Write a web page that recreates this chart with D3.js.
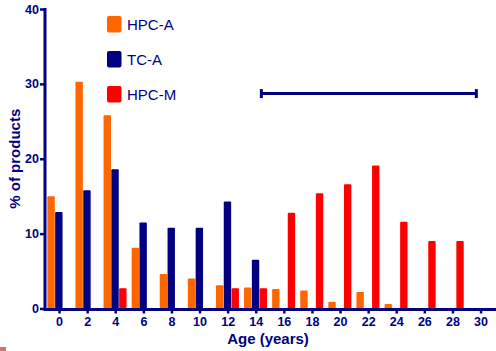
<!DOCTYPE html>
<html>
<head>
<meta charset="utf-8">
<script src="https://cdn.jsdelivr.net/npm/d3@7"></script>
<style>
  body { margin: 0; background: #fff; }
  text { font-family: "Liberation Sans", Arial, sans-serif; fill: #000080; }
</style>
</head>
<body>
<svg id="chart" width="496" height="351"></svg>
<script>
// Data
var ages = [0, 2, 4, 6, 8, 10, 12, 14, 16, 18, 20, 22, 24, 26, 28, 30];
var seriesNames = ["HPC-A", "TC-A", "HPC-M"];
var seriesColors = ["#ff6600", "#000080", "#ff0000"];
var hpcA = [15.0, 30.3, 25.8, 8.1, 4.6, 4.0, 3.1, 2.8, 2.6, 2.4, 0.9, 2.2, 0.6, 0, 0, 0];
var tcA  = [12.9, 15.8, 18.6, 11.5, 10.8, 10.8, 14.3, 6.5, 0, 0, 0, 0, 0, 0, 0, 0];
var hpcM = [0, 0, 2.7, 0, 0, 0, 2.7, 2.7, 12.8, 15.4, 16.6, 19.1, 11.6, 9.0, 9.0, 0];
var yTicks = [0, 10, 20, 30, 40];
var rangeBar = { from: 14.4, to: 29.7, level: 28.7 };

var svg = d3.select("#chart");

var x = d3.scaleLinear().domain([-1, 31.1]).range([45, 496]);
var y = d3.scaleLinear().domain([0, 40]).range([308.5, 9]);

// bar offsets within each age group
var sub = d3.scaleBand().domain(seriesNames).range([-11.7, 11.7]);

var allSeries = [hpcA, tcA, hpcM];

// Bars
for (var s = 0; s < allSeries.length; s++) {
  svg.append("g").selectAll("rect").data(allSeries[s]).enter().append("rect")
    .attr("x", function(d, i) { return x(ages[i]) + sub(seriesNames[s]); })
    .attr("y", function(d) { return y(d); })
    .attr("width", sub.bandwidth() - 0.4)
    .attr("height", function(d) { return y(0) - y(d); })
    .attr("rx", 1)
    .attr("fill", seriesColors[s]);
}

// Range line
var rg = svg.append("g").attr("stroke", "#000080");
rg.append("line")
  .attr("x1", x(rangeBar.from)).attr("x2", x(rangeBar.to))
  .attr("y1", y(rangeBar.level)).attr("y2", y(rangeBar.level))
  .attr("stroke-width", 3);
rg.selectAll("line.cap").data([rangeBar.from, rangeBar.to]).enter().append("line")
  .attr("class", "cap")
  .attr("x1", function(d) { return x(d); }).attr("x2", function(d) { return x(d); })
  .attr("y1", y(rangeBar.level) - 4.5).attr("y2", y(rangeBar.level) + 4.5)
  .attr("stroke-width", 3);

// Y axis
var yAxis = d3.axisLeft(y).tickValues(yTicks).tickSize(5).tickPadding(1);
var yg = svg.append("g").attr("transform", "translate(45,0)").call(yAxis);
yg.select(".domain").attr("stroke", "#000080").attr("stroke-width", 3)
  .attr("d", "M0," + (y(40) - 1) + "V" + (y(0) + 1.5));
yg.selectAll(".tick line").attr("stroke", "#000080").attr("stroke-width", 2.5);
yg.selectAll(".tick text").attr("fill", "#000080")
  .style("font-size", "12.5px").style("font-weight", "bold");

// X axis
var xAxis = d3.axisBottom(x).tickValues(ages).tickSize(4).tickPadding(4);
var xg = svg.append("g").attr("transform", "translate(0," + (y(0) + 1) + ")").call(xAxis);
xg.select(".domain").attr("stroke", "#000080").attr("stroke-width", 3)
  .attr("d", "M43.5,0H496");
xg.selectAll(".tick line").attr("stroke", "#000080").attr("stroke-width", 2.5);
xg.selectAll(".tick text").attr("fill", "#000080")
  .style("font-size", "12.5px").style("font-weight", "bold");

// Axis titles
svg.append("text")
  .attr("x", 268).attr("y", 344)
  .attr("text-anchor", "middle")
  .style("font-size", "15px").style("font-weight", "bold")
  .text("Age (years)");

svg.append("text")
  .attr("transform", "translate(20," + ((y(0) + y(40)) / 2) + ") rotate(-90)")
  .attr("text-anchor", "middle")
  .style("font-size", "15px").style("font-weight", "bold")
  .text("% of products");

// Legend
var legend = svg.append("g").attr("transform", "translate(107,16)");
var items = legend.selectAll("g").data(seriesNames).enter().append("g")
  .attr("transform", function(d, i) { return "translate(0," + (i * 35) + ")"; });
items.append("rect")
  .attr("width", 14.5).attr("height", 16.5).attr("rx", 2)
  .attr("fill", function(d, i) { return seriesColors[i]; });
items.append("text")
  .attr("x", 20).attr("y", 13.5)
  .style("font-size", "15px")
  .text(function(d) { return d; });

// small mark in the lower-left corner of the original
svg.append("rect").attr("x", 0).attr("y", 347).attr("width", 6).attr("height", 4)
  .attr("fill", "#c0504d").attr("opacity", 0.8);
</script>
</body>
</html>
